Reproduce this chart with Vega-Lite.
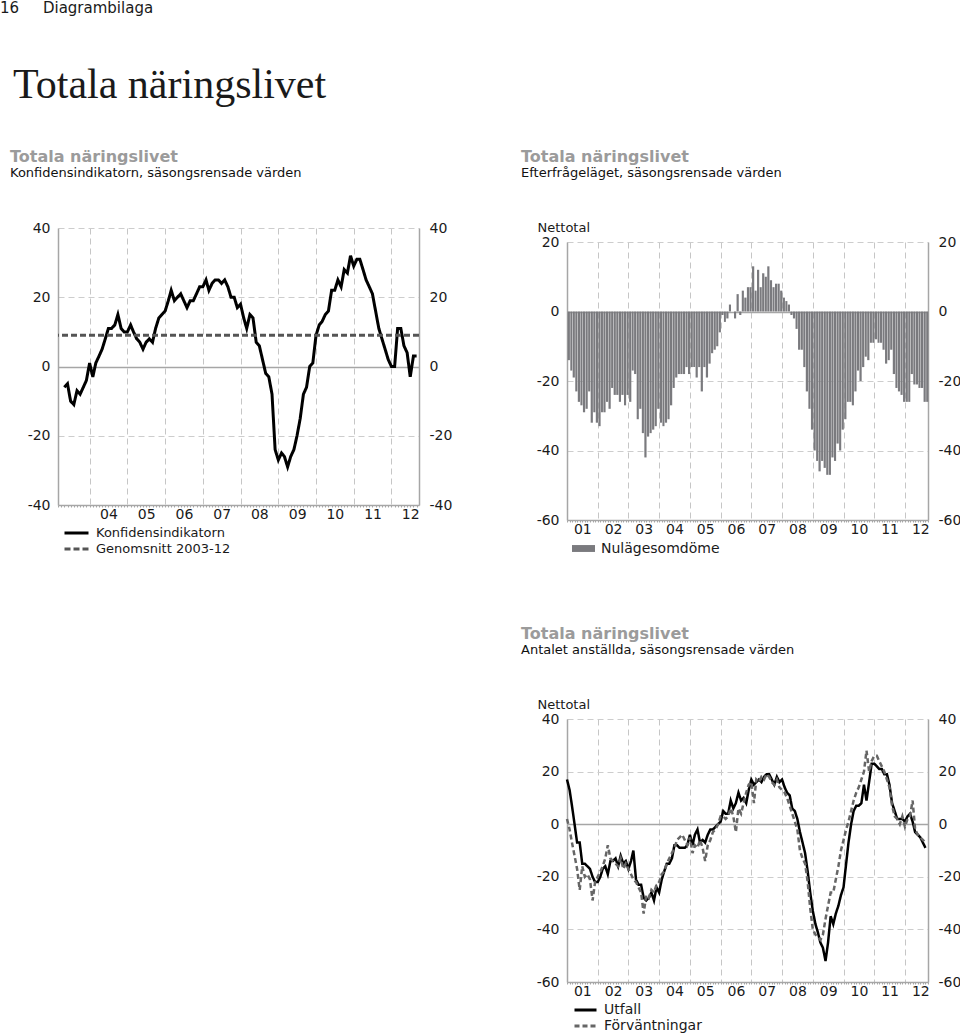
{
  "$schema": "https://vega.github.io/schema/vega-lite/v6.json",
  "background": "white",
  "padding": {"left": 0, "top": 1, "right": 0, "bottom": 0},
  "datasets": {
    "konf": [
      {"d":"2003-05","v":-6},{"d":"2003-06","v":-5},{"d":"2003-07","v":-10},{"d":"2003-08","v":-11},{"d":"2003-09","v":-7},{"d":"2003-10","v":-8},{"d":"2003-11","v":-6},{"d":"2003-12","v":-4},
      {"d":"2004-01","v":1},{"d":"2004-02","v":-3},{"d":"2004-03","v":1},{"d":"2004-04","v":3},{"d":"2004-05","v":5},{"d":"2004-06","v":8},{"d":"2004-07","v":11},{"d":"2004-08","v":11},{"d":"2004-09","v":12},{"d":"2004-10","v":15},{"d":"2004-11","v":11},{"d":"2004-12","v":10},
      {"d":"2005-01","v":10},{"d":"2005-02","v":12},{"d":"2005-03","v":10},{"d":"2005-04","v":8},{"d":"2005-05","v":7},{"d":"2005-06","v":5},{"d":"2005-07","v":7},{"d":"2005-08","v":8},{"d":"2005-09","v":7},{"d":"2005-10","v":11},{"d":"2005-11","v":14},{"d":"2005-12","v":15},
      {"d":"2006-01","v":16},{"d":"2006-02","v":19},{"d":"2006-03","v":22},{"d":"2006-04","v":19},{"d":"2006-05","v":20},{"d":"2006-06","v":21},{"d":"2006-07","v":19},{"d":"2006-08","v":17},{"d":"2006-09","v":19},{"d":"2006-10","v":19},{"d":"2006-11","v":21},{"d":"2006-12","v":23},
      {"d":"2007-01","v":23},{"d":"2007-02","v":25},{"d":"2007-03","v":22},{"d":"2007-04","v":24},{"d":"2007-05","v":25},{"d":"2007-06","v":25},{"d":"2007-07","v":24},{"d":"2007-08","v":25},{"d":"2007-09","v":23},{"d":"2007-10","v":20},{"d":"2007-11","v":20},{"d":"2007-12","v":17},
      {"d":"2008-01","v":18},{"d":"2008-02","v":14},{"d":"2008-03","v":11},{"d":"2008-04","v":15},{"d":"2008-05","v":14},{"d":"2008-06","v":7},{"d":"2008-07","v":6},{"d":"2008-08","v":2},{"d":"2008-09","v":-2},{"d":"2008-10","v":-3},{"d":"2008-11","v":-8},{"d":"2008-12","v":-24},
      {"d":"2009-01","v":-27},{"d":"2009-02","v":-25},{"d":"2009-03","v":-26},{"d":"2009-04","v":-29},{"d":"2009-05","v":-26},{"d":"2009-06","v":-24},{"d":"2009-07","v":-20},{"d":"2009-08","v":-15},{"d":"2009-09","v":-8},{"d":"2009-10","v":-6},{"d":"2009-11","v":0},{"d":"2009-12","v":1},
      {"d":"2010-01","v":9},{"d":"2010-02","v":12},{"d":"2010-03","v":13},{"d":"2010-04","v":15},{"d":"2010-05","v":16},{"d":"2010-06","v":22},{"d":"2010-07","v":22},{"d":"2010-08","v":25},{"d":"2010-09","v":23},{"d":"2010-10","v":28},{"d":"2010-11","v":27},{"d":"2010-12","v":32},
      {"d":"2011-01","v":29},{"d":"2011-02","v":31},{"d":"2011-03","v":31},{"d":"2011-04","v":28},{"d":"2011-05","v":25},{"d":"2011-06","v":23},{"d":"2011-07","v":21},{"d":"2011-08","v":16},{"d":"2011-09","v":11},{"d":"2011-10","v":8},{"d":"2011-11","v":5},{"d":"2011-12","v":2},
      {"d":"2012-01","v":0},{"d":"2012-02","v":0},{"d":"2012-03","v":11},{"d":"2012-04","v":11},{"d":"2012-05","v":6},{"d":"2012-06","v":4},{"d":"2012-07","v":-3},{"d":"2012-08","v":3},{"d":"2012-09","v":3}
    ],
    "nul": [
      {"d":"2001-01","v":-14},{"d":"2001-02","v":-17},{"d":"2001-03","v":-19},{"d":"2001-04","v":-23},{"d":"2001-05","v":-26},{"d":"2001-06","v":-27},{"d":"2001-07","v":-29},{"d":"2001-08","v":-28},{"d":"2001-09","v":-23},{"d":"2001-10","v":-32},{"d":"2001-11","v":-29},{"d":"2001-12","v":-32},
      {"d":"2002-01","v":-33},{"d":"2002-02","v":-29},{"d":"2002-03","v":-29},{"d":"2002-04","v":-26},{"d":"2002-05","v":-28},{"d":"2002-06","v":-22},{"d":"2002-07","v":-24},{"d":"2002-08","v":-24},{"d":"2002-09","v":-26},{"d":"2002-10","v":-24},{"d":"2002-11","v":-27},{"d":"2002-12","v":-24},
      {"d":"2003-01","v":-26},{"d":"2003-02","v":-17},{"d":"2003-03","v":-18},{"d":"2003-04","v":-31},{"d":"2003-05","v":-28},{"d":"2003-06","v":-35},{"d":"2003-07","v":-42},{"d":"2003-08","v":-36},{"d":"2003-09","v":-35},{"d":"2003-10","v":-34},{"d":"2003-11","v":-33},{"d":"2003-12","v":-28},
      {"d":"2004-01","v":-32},{"d":"2004-02","v":-33},{"d":"2004-03","v":-32},{"d":"2004-04","v":-31},{"d":"2004-05","v":-27},{"d":"2004-06","v":-22},{"d":"2004-07","v":-19},{"d":"2004-08","v":-18},{"d":"2004-09","v":-18},{"d":"2004-10","v":-18},{"d":"2004-11","v":-16},{"d":"2004-12","v":-18},
      {"d":"2005-01","v":-16},{"d":"2005-02","v":-16},{"d":"2005-03","v":-19},{"d":"2005-04","v":-16},{"d":"2005-05","v":-23},{"d":"2005-06","v":-16},{"d":"2005-07","v":-19},{"d":"2005-08","v":-15},{"d":"2005-09","v":-12},{"d":"2005-10","v":-11},{"d":"2005-11","v":-10},{"d":"2005-12","v":-6},
      {"d":"2006-01","v":-1},{"d":"2006-02","v":-3},{"d":"2006-03","v":-2},{"d":"2006-04","v":2},{"d":"2006-05","v":0},{"d":"2006-06","v":-2},{"d":"2006-07","v":5},{"d":"2006-08","v":-1},{"d":"2006-09","v":6},{"d":"2006-10","v":4},{"d":"2006-11","v":7},{"d":"2006-12","v":7},
      {"d":"2007-01","v":13},{"d":"2007-02","v":6},{"d":"2007-03","v":12},{"d":"2007-04","v":7},{"d":"2007-05","v":11},{"d":"2007-06","v":10},{"d":"2007-07","v":13},{"d":"2007-08","v":9},{"d":"2007-09","v":7},{"d":"2007-10","v":8},{"d":"2007-11","v":8},{"d":"2007-12","v":6},
      {"d":"2008-01","v":4},{"d":"2008-02","v":3},{"d":"2008-03","v":2},{"d":"2008-04","v":-1},{"d":"2008-05","v":-2},{"d":"2008-06","v":-5},{"d":"2008-07","v":-11},{"d":"2008-08","v":-11},{"d":"2008-09","v":-16},{"d":"2008-10","v":-23},{"d":"2008-11","v":-28},{"d":"2008-12","v":-34},
      {"d":"2009-01","v":-40},{"d":"2009-02","v":-43},{"d":"2009-03","v":-46},{"d":"2009-04","v":-43},{"d":"2009-05","v":-45},{"d":"2009-06","v":-47},{"d":"2009-07","v":-47},{"d":"2009-08","v":-42},{"d":"2009-09","v":-43},{"d":"2009-10","v":-38},{"d":"2009-11","v":-40},{"d":"2009-12","v":-34},
      {"d":"2010-01","v":-31},{"d":"2010-02","v":-26},{"d":"2010-03","v":-26},{"d":"2010-04","v":-27},{"d":"2010-05","v":-23},{"d":"2010-06","v":-17},{"d":"2010-07","v":-20},{"d":"2010-08","v":-16},{"d":"2010-09","v":-13},{"d":"2010-10","v":-14},{"d":"2010-11","v":-9},{"d":"2010-12","v":-9},
      {"d":"2011-01","v":-8},{"d":"2011-02","v":-9},{"d":"2011-03","v":-9},{"d":"2011-04","v":-11},{"d":"2011-05","v":-15},{"d":"2011-06","v":-14},{"d":"2011-07","v":-11},{"d":"2011-08","v":-18},{"d":"2011-09","v":-22},{"d":"2011-10","v":-23},{"d":"2011-11","v":-24},{"d":"2011-12","v":-26},
      {"d":"2012-01","v":-26},{"d":"2012-02","v":-26},{"d":"2012-03","v":-18},{"d":"2012-04","v":-21},{"d":"2012-05","v":-21},{"d":"2012-06","v":-22},{"d":"2012-07","v":-22},{"d":"2012-08","v":-26},{"d":"2012-09","v":-26}
    ],
    "anst": [
      {"d":"2001-01","u":17,"f":2},{"d":"2001-02","u":13,"f":-2},{"d":"2001-03","u":7,"f":-7},{"d":"2001-04","u":0,"f":-12},{"d":"2001-05","u":-7,"f":-17},{"d":"2001-06","u":-7,"f":-25},{"d":"2001-07","u":-15,"f":-16},{"d":"2001-08","u":-15,"f":-20},{"d":"2001-09","u":-16,"f":-19},{"d":"2001-10","u":-17,"f":-21},{"d":"2001-11","u":-20,"f":-29},{"d":"2001-12","u":-22,"f":-22},
      {"d":"2002-01","u":-22,"f":-20},{"d":"2002-02","u":-20,"f":-18},{"d":"2002-03","u":-17,"f":-16},{"d":"2002-04","u":-16,"f":-13},{"d":"2002-05","u":-19,"f":-8},{"d":"2002-06","u":-14,"f":-13},{"d":"2002-07","u":-14,"f":-14},{"d":"2002-08","u":-13,"f":-15},{"d":"2002-09","u":-16,"f":-16},{"d":"2002-10","u":-12,"f":-13},{"d":"2002-11","u":-15,"f":-17},{"d":"2002-12","u":-14,"f":-15},
      {"d":"2003-01","u":-17,"f":-17},{"d":"2003-02","u":-14,"f":-19},{"d":"2003-03","u":-10,"f":-21},{"d":"2003-04","u":-21,"f":-22},{"d":"2003-05","u":-23,"f":-24},{"d":"2003-06","u":-23,"f":-26},{"d":"2003-07","u":-28,"f":-34},{"d":"2003-08","u":-29,"f":-27},{"d":"2003-09","u":-28,"f":-28},{"d":"2003-10","u":-26,"f":-25},{"d":"2003-11","u":-29,"f":-26},{"d":"2003-12","u":-24,"f":-23},
      {"d":"2004-01","u":-26,"f":-22},{"d":"2004-02","u":-21,"f":-19},{"d":"2004-03","u":-18,"f":-18},{"d":"2004-04","u":-15,"f":-15},{"d":"2004-05","u":-15,"f":-13},{"d":"2004-06","u":-13,"f":-11},{"d":"2004-07","u":-8,"f":-9},{"d":"2004-08","u":-8,"f":-6},{"d":"2004-09","u":-9,"f":-5},{"d":"2004-10","u":-9,"f":-4},{"d":"2004-11","u":-9,"f":-6},{"d":"2004-12","u":-8,"f":-8},
      {"d":"2005-01","u":-4,"f":-5},{"d":"2005-02","u":-8,"f":-11},{"d":"2005-03","u":-4,"f":-8},{"d":"2005-04","u":-2,"f":-9},{"d":"2005-05","u":-7,"f":-6},{"d":"2005-06","u":-6,"f":-9},{"d":"2005-07","u":-7,"f":-14},{"d":"2005-08","u":-4,"f":-8},{"d":"2005-09","u":-2,"f":-6},{"d":"2005-10","u":-2,"f":-3},{"d":"2005-11","u":-1,"f":-2},{"d":"2005-12","u":0,"f":0},
      {"d":"2006-01","u":1,"f":3},{"d":"2006-02","u":5,"f":3},{"d":"2006-03","u":4,"f":2},{"d":"2006-04","u":4,"f":3},{"d":"2006-05","u":9,"f":6},{"d":"2006-06","u":6,"f":3},{"d":"2006-07","u":8,"f":-3},{"d":"2006-08","u":12,"f":6},{"d":"2006-09","u":9,"f":4},{"d":"2006-10","u":10,"f":8},{"d":"2006-11","u":8,"f":12},{"d":"2006-12","u":13,"f":15},
      {"d":"2007-01","u":17,"f":16},{"d":"2007-02","u":15,"f":8},{"d":"2007-03","u":16,"f":17},{"d":"2007-04","u":17,"f":16},{"d":"2007-05","u":16,"f":18},{"d":"2007-06","u":18,"f":17},{"d":"2007-07","u":19,"f":19},{"d":"2007-08","u":19,"f":18},{"d":"2007-09","u":17,"f":16},{"d":"2007-10","u":15,"f":15},{"d":"2007-11","u":18,"f":17},{"d":"2007-12","u":16,"f":14},
      {"d":"2008-01","u":17,"f":13},{"d":"2008-02","u":14,"f":12},{"d":"2008-03","u":12,"f":10},{"d":"2008-04","u":11,"f":7},{"d":"2008-05","u":6,"f":4},{"d":"2008-06","u":5,"f":1},{"d":"2008-07","u":2,"f":-2},{"d":"2008-08","u":-3,"f":-10},{"d":"2008-09","u":-7,"f":-13},{"d":"2008-10","u":-11,"f":-15},{"d":"2008-11","u":-18,"f":-22},{"d":"2008-12","u":-26,"f":-32},
      {"d":"2009-01","u":-33,"f":-40},{"d":"2009-02","u":-38,"f":-42},{"d":"2009-03","u":-41,"f":-43},{"d":"2009-04","u":-45,"f":-44},{"d":"2009-05","u":-47,"f":-42},{"d":"2009-06","u":-52,"f":-36},{"d":"2009-07","u":-45,"f":-31},{"d":"2009-08","u":-35,"f":-26},{"d":"2009-09","u":-38,"f":-26},{"d":"2009-10","u":-34,"f":-21},{"d":"2009-11","u":-31,"f":-16},{"d":"2009-12","u":-27,"f":-10},
      {"d":"2010-01","u":-24,"f":-6},{"d":"2010-02","u":-15,"f":-2},{"d":"2010-03","u":-7,"f":1},{"d":"2010-04","u":0,"f":5},{"d":"2010-05","u":5,"f":9},{"d":"2010-06","u":7,"f":12},{"d":"2010-07","u":7,"f":14},{"d":"2010-08","u":8,"f":17},{"d":"2010-09","u":15,"f":20},{"d":"2010-10","u":9,"f":28},{"d":"2010-11","u":16,"f":20},{"d":"2010-12","u":23,"f":24},
      {"d":"2011-01","u":23,"f":26},{"d":"2011-02","u":22,"f":26},{"d":"2011-03","u":21,"f":24},{"d":"2011-04","u":21,"f":22},{"d":"2011-05","u":19,"f":20},{"d":"2011-06","u":19,"f":17},{"d":"2011-07","u":15,"f":14},{"d":"2011-08","u":8,"f":7},{"d":"2011-09","u":5,"f":3},{"d":"2011-10","u":2,"f":2},{"d":"2011-11","u":2,"f":0},{"d":"2011-12","u":2,"f":3},
      {"d":"2012-01","u":1,"f":-1},{"d":"2012-02","u":3,"f":2},{"d":"2012-03","u":4,"f":3},{"d":"2012-04","u":1,"f":9},{"d":"2012-05","u":-3,"f":-2},{"d":"2012-06","u":-4,"f":-4},{"d":"2012-07","u":-5,"f":-5},{"d":"2012-08","u":-7,"f":-6},{"d":"2012-09","u":-9,"f":-7}
    ]
  },
  "title": {"text": "16\u00a0\u00a0\u00a0\u00a0\u00a0Diagrambilaga", "anchor": "start", "dx": -10, "font": "DejaVu Sans", "fontSize": 15, "fontWeight": "normal", "color": "#1a1a1a", "offset": 48},
  "resolve": {"scale": {"color": "independent", "strokeDash": "independent"}, "legend": {"color": "independent", "strokeDash": "independent"}},
  "vconcat": [
    {
      "title": {"text": "Totala näringslivet", "anchor": "start", "dx": 3, "font": "Liberation Serif", "fontSize": 42, "fontWeight": "normal", "color": "#1a1a1a", "offset": 42},
      "columns": 2,
      "align": "none",
      "spacing": {"column": 69, "row": 20},
      "resolve": {"scale": {"color": "independent", "strokeDash": "independent"}, "legend": {"color": "independent", "strokeDash": "independent"}},
      "concat": [
        {
          "width": 361,
          "height": 277,
          "title": {"text": "Totala näringslivet", "subtitle": "Konfidensindikatorn, säsongsrensade värden", "anchor": "start", "frame": "group", "dx": -48, "offset": 41, "font": "DejaVu Sans", "fontSize": 16, "fontWeight": "bold", "color": "#9b9b9b", "subtitleFont": "DejaVu Sans", "subtitleFontSize": 13, "subtitleColor": "#111111", "subtitlePadding": 2},
          "layer": [
            {
              "data": {"name": "konf"},
              "mark": {"type": "line", "strokeWidth": 3},
              "encoding": {
                "x": {"field": "d", "type": "temporal", "scale": {"domain": ["2003-03-01", "2012-09-24"]},
                  "axis": {"title": null, "tickCount": {"interval": "month", "step": 1}, "labelExpr": "month(datum.value) == 0 ? timeFormat(datum.value, '%y') : ''", "labelOffset": 18.85, "labelOverlap": false, "labelFlush": false, "labelBound": false, "labelPadding": 0, "tickSize": 2, "grid": true, "gridDash": [6, 4], "gridColor": "#c6c6c6", "gridOpacity": {"condition": {"test": "month(datum.value) == 0", "value": 1}, "value": 0}}},
                "y": {"field": "v", "type": "quantitative", "scale": {"domain": [-40, 40]},
                  "axis": {"title": null, "orient": "left", "tickCount": 4, "ticks": false, "labelPadding": 8, "labelExpr": "datum.value < 0 ? '-' + abs(datum.value) : '' + datum.value", "grid": true, "gridDash": {"condition": {"test": "datum.value == 0", "value": []}, "value": [6, 4]}, "gridColor": {"condition": {"test": "datum.value == 0", "value": "#a6a6a6"}, "value": "#cdcdcd"}, "gridWidth": {"condition": {"test": "datum.value == 0", "value": 1.5}, "value": 1}}},
                "color": {"datum": "Konfidensindikatorn", "type": "nominal", "scale": {"domain": ["Konfidensindikatorn", "Genomsnitt 2003-12"], "range": ["#000000", "#555555"]},
                  "legend": {"orient": "none", "legendX": 5, "legendY": 297, "title": null, "symbolType": "stroke", "symbolSize": 576, "symbolStrokeWidth": 3, "labelFontSize": 13, "labelOffset": 6, "rowPadding": 0, "clipHeight": 16, "direction": "vertical"}},
                "strokeDash": {"datum": "Konfidensindikatorn", "type": "nominal", "scale": {"domain": ["Konfidensindikatorn", "Genomsnitt 2003-12"], "range": [[1, 0], [6, 3]]},
                  "legend": {"orient": "none", "legendX": 5, "legendY": 297, "title": null, "symbolType": "stroke", "symbolSize": 576, "symbolStrokeWidth": 3, "labelFontSize": 13, "labelOffset": 6, "rowPadding": 0, "clipHeight": 16, "direction": "vertical"}}
              }
            },
            {
              "data": {"values": [{"v": 9}]},
              "mark": {"type": "rule", "strokeWidth": 3},
              "encoding": {
                "y": {"field": "v", "type": "quantitative", "scale": {"domain": [-40, 40]},
                  "axis": {"title": null, "orient": "right", "tickCount": 4, "ticks": false, "labelPadding": 10, "labelExpr": "datum.value < 0 ? '-' + abs(datum.value) : '' + datum.value", "grid": false}},
                "color": {"datum": "Genomsnitt 2003-12", "type": "nominal"},
                "strokeDash": {"datum": "Genomsnitt 2003-12", "type": "nominal"}
              }
            }
          ],
          "resolve": {"scale": {"y": "shared"}, "axis": {"y": "independent"}}
        },
        {
          "spacing": -80,
          "resolve": {"scale": {"color": "independent", "strokeDash": "independent"}, "legend": {"color": "independent", "strokeDash": "independent"}},
          "vconcat": [
            {
              "width": 1,
              "height": 1,
              "data": {"values": []},
              "mark": {"type": "point", "opacity": 0}
            },
            {
              "spacing": 70,
              "resolve": {"scale": {"color": "independent", "strokeDash": "independent"}, "legend": {"color": "independent", "strokeDash": "independent"}},
              "vconcat": [
                {
                  "width": 361,
                  "height": 278,
                  "title": {"text": "Totala näringslivet", "subtitle": "Efterfrågeläget, säsongsrensade värden", "anchor": "start", "frame": "group", "dx": -46, "offset": 41, "font": "DejaVu Sans", "fontSize": 16, "fontWeight": "bold", "color": "#9b9b9b", "subtitleFont": "DejaVu Sans", "subtitleFontSize": 13, "subtitleColor": "#111111", "subtitlePadding": 2},
                  "data": {"name": "nul"},
                  "layer": [
                    {
                      "mark": {"type": "bar"},
                      "encoding": {
                        "x": {"field": "d", "timeUnit": "yearmonth", "type": "temporal", "scale": {"domain": ["2001-01-01", "2012-10-01"]},
                          "axis": {"title": null, "tickCount": {"interval": "month", "step": 1}, "labelExpr": "month(datum.value) == 0 ? timeFormat(datum.value, '%y') : ''", "labelOffset": 15.35, "labelOverlap": false, "labelFlush": false, "labelBound": false, "labelPadding": 0, "tickSize": 2, "grid": true, "gridDash": [6, 4], "gridColor": "#c6c6c6", "gridOpacity": {"condition": {"test": "month(datum.value) == 0", "value": 1}, "value": 0}}},
                        "y": {"field": "v", "type": "quantitative", "scale": {"domain": [-60, 20]},
                          "axis": {"title": "Nettotal", "titleAngle": 0, "titleAlign": "left", "titleBaseline": "bottom", "titleX": -30, "titleY": -8, "titleFontSize": 13, "orient": "left", "tickCount": 4, "ticks": false, "labelPadding": 8, "labelExpr": "datum.value < 0 ? '-' + abs(datum.value) : '' + datum.value", "grid": true, "gridDash": {"condition": {"test": "datum.value == 0", "value": []}, "value": [6, 4]}, "gridColor": {"condition": {"test": "datum.value == 0", "value": "#a6a6a6"}, "value": "#cdcdcd"}, "gridWidth": {"condition": {"test": "datum.value == 0", "value": 1.5}, "value": 1}}},
                        "color": {"datum": "Nulägesomdöme", "type": "nominal", "scale": {"domain": ["Nulägesomdöme"], "range": ["#7a7a7e"]},
                          "legend": {"orient": "none", "legendX": 5, "legendY": 295, "title": null, "symbolType": "M-1,-0.3L1,-0.3L1,0.3L-1,0.3Z", "symbolSize": 529, "symbolStrokeWidth": 0, "labelFontSize": 14, "labelOffset": 6}}
                      }
                    },
                    {
                      "mark": {"type": "bar", "opacity": 0},
                      "encoding": {
                        "x": {"field": "d", "timeUnit": "yearmonth", "type": "temporal"},
                        "y": {"field": "v", "type": "quantitative", "scale": {"domain": [-60, 20]},
                          "axis": {"title": null, "orient": "right", "tickCount": 4, "ticks": false, "labelPadding": 10, "labelExpr": "datum.value < 0 ? '-' + abs(datum.value) : '' + datum.value", "grid": false}}
                      }
                    }
                  ],
                  "resolve": {"scale": {"y": "shared"}, "axis": {"y": "independent"}}
                },
                {
                  "width": 361,
                  "height": 263,
                  "title": {"text": "Totala näringslivet", "subtitle": "Antalet anställda, säsongsrensade värden", "anchor": "start", "frame": "group", "dx": -46, "offset": 41, "font": "DejaVu Sans", "fontSize": 16, "fontWeight": "bold", "color": "#9b9b9b", "subtitleFont": "DejaVu Sans", "subtitleFontSize": 13, "subtitleColor": "#111111", "subtitlePadding": 2},
                  "data": {"name": "anst"},
                  "layer": [
                    {
                      "mark": {"type": "line", "strokeWidth": 2.5},
                      "encoding": {
                        "x": {"field": "d", "type": "temporal", "scale": {"domain": ["2001-01-01", "2012-10-01"]},
                          "axis": {"title": null, "tickCount": {"interval": "month", "step": 1}, "labelExpr": "month(datum.value) == 0 ? timeFormat(datum.value, '%y') : ''", "labelOffset": 15.35, "labelOverlap": false, "labelFlush": false, "labelBound": false, "labelPadding": 0, "tickSize": 2, "grid": true, "gridDash": [6, 4], "gridColor": "#c6c6c6", "gridOpacity": {"condition": {"test": "month(datum.value) == 0", "value": 1}, "value": 0}}},
                        "y": {"field": "u", "type": "quantitative", "scale": {"domain": [-60, 40]},
                          "axis": {"title": "Nettotal", "titleAngle": 0, "titleAlign": "left", "titleBaseline": "bottom", "titleX": -30, "titleY": -8, "titleFontSize": 13, "orient": "left", "tickCount": 5, "ticks": false, "labelPadding": 8, "labelExpr": "datum.value < 0 ? '-' + abs(datum.value) : '' + datum.value", "grid": true, "gridDash": {"condition": {"test": "datum.value == 0", "value": []}, "value": [6, 4]}, "gridColor": {"condition": {"test": "datum.value == 0", "value": "#a6a6a6"}, "value": "#cdcdcd"}, "gridWidth": {"condition": {"test": "datum.value == 0", "value": 1.5}, "value": 1}}},
                        "color": {"datum": "Utfall", "type": "nominal", "scale": {"domain": ["Utfall", "Förväntningar"], "range": ["#000000", "#666666"]},
                          "legend": {"orient": "none", "legendX": 6, "legendY": 283, "title": null, "symbolType": "stroke", "symbolSize": 484, "symbolStrokeWidth": 3, "labelFontSize": 14, "labelOffset": 6, "rowPadding": 0, "clipHeight": 16, "direction": "vertical"}},
                        "strokeDash": {"datum": "Utfall", "type": "nominal", "scale": {"domain": ["Utfall", "Förväntningar"], "range": [[1, 0], [5, 3]]},
                          "legend": {"orient": "none", "legendX": 6, "legendY": 283, "title": null, "symbolType": "stroke", "symbolSize": 484, "symbolStrokeWidth": 3, "labelFontSize": 14, "labelOffset": 6, "rowPadding": 0, "clipHeight": 16, "direction": "vertical"}}
                      }
                    },
                    {
                      "mark": {"type": "line", "strokeWidth": 2.5},
                      "encoding": {
                        "x": {"field": "d", "type": "temporal"},
                        "y": {"field": "f", "type": "quantitative", "scale": {"domain": [-60, 40]},
                          "axis": {"title": null, "orient": "right", "tickCount": 5, "ticks": false, "labelPadding": 10, "labelExpr": "datum.value < 0 ? '-' + abs(datum.value) : '' + datum.value", "grid": false}},
                        "color": {"datum": "Förväntningar", "type": "nominal"},
                        "strokeDash": {"datum": "Förväntningar", "type": "nominal"}
                      }
                    }
                  ],
                  "resolve": {"scale": {"y": "shared"}, "axis": {"y": "independent"}}
                }
              ]
            }
          ]
        }
      ]
    }
  ],
  "config": {
    "view": {"stroke": null},
    "font": "DejaVu Sans",
    "bar": {"binSpacing": 0.4},
    "axis": {"labelFont": "DejaVu Sans", "labelFontSize": 14, "labelColor": "#1a1a1a", "domainColor": "#a6a6a6", "domainWidth": 1.5, "tickColor": "#a6a6a6", "titleFont": "DejaVu Sans", "titleFontWeight": "normal", "titleColor": "#1a1a1a"},
    "legend": {"labelFont": "DejaVu Sans", "labelColor": "#1a1a1a"}
  }
}
